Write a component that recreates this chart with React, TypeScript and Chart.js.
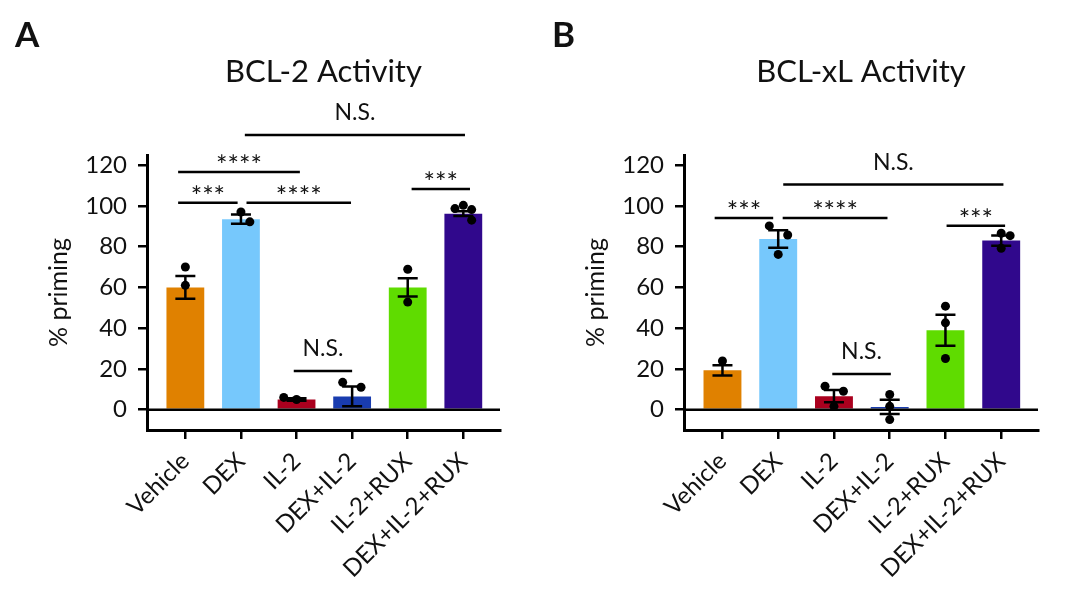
import { useEffect, useRef } from 'react';
import { Chart, registerables } from 'chart.js';

Chart.register(...registerables);

// ---------- data ----------
const categories = ['Vehicle', 'DEX', 'IL-2', 'DEX+IL-2', 'IL-2+RUX', 'DEX+IL-2+RUX'];
const barColors = ['#E08100', '#76C8FC', '#AA001E', '#193CAF', '#5FDC00', '#30088C'];
const yTickValues = [0, 20, 40, 60, 80, 100, 120];

const bcl2Means = [60, 93.5, 5, 6.5, 60, 96.2];
const bcl2Sem = [5.6, 2.3, 0.6, 4.8, 4.5, 1.2];
const bcl2Dots = [[70, 61], [97, 92.2], [6, 5], [13.4, 11], [68.9, 52.8], [98.7, 100.3, 98.2, 93]];
const bcl2Jitter = [[0, 0], [0, 0.16], [-0.23, 0], [-0.17, 0.16], [0, 0], [-0.15, 0, 0.15, 0.15]];
const bcl2Brackets = [
  { from: -0.13, to: 2.06, y: 116.7, label: '****' },
  { from: -0.13, to: 0.94, y: 101.6, label: '***' },
  { from: 1.1, to: 2.98, y: 101.6, label: '****' },
  { from: 1.07, to: 5.03, y: 134.8, label: 'N.S.' },
  { from: 4.07, to: 5.12, y: 108.3, label: '***' },
  { from: 1.95, to: 3.0, y: 19, label: 'N.S.' },
];

const bclxlMeans = [19.3, 83.8, 6.6, 1.3, 39, 83];
const bclxlSem = [2.5, 4.3, 3, 3.5, 7.6, 2.5];
const bclxlDots = [[23.9], [90.2, 85.7, 76.2], [11.5, 9, 1.6], [7.4, 1.6, -4.9], [50.8, 42.6, 25.1], [86.6, 85.4, 79.2]];
const bclxlJitter = [[0], [-0.16, 0.17, 0], [-0.16, 0.17, 0], [0, 0, 0], [0, 0, 0], [0, 0.16, 0]];
const bclxlBrackets = [
  { from: -0.14, to: 0.91, y: 94.1, label: '***' },
  { from: 1.08, to: 2.96, y: 94.1, label: '****' },
  { from: 1.09, to: 5.04, y: 110.5, label: 'N.S.' },
  { from: 4.02, to: 5.07, y: 90.3, label: '***' },
  { from: 1.97, to: 3.02, y: 17.5, label: 'N.S.' },
];

// ---------- chart ----------
const FONT = 'Lato, "Open Sans", "DejaVu Sans", sans-serif';
const INK = '#111';

type Bracket = { from: number; to: number; y: number; label: string };
type Panel = {
  letter: string;
  title: string;
  means: number[];
  sem: number[];
  dots: number[][];
  jitter: number[][];
  brackets: Bracket[];
  rightPad: number;
};

function buildConfig(p: Panel): any {
  const annot = {
    id: 'annot',
    afterDatasetDraw(chart: any, args: any) {
      if (args.index !== 0) return;
      const { ctx, chartArea, scales } = chart;
      const x = scales.x;
      const y = scales.y;
      ctx.save();
      ctx.strokeStyle = '#000';
      ctx.lineWidth = 2.5;
      const y0 = y.getPixelForValue(0);
      ctx.beginPath();
      ctx.moveTo(chartArea.left, y0);
      ctx.lineTo(chartArea.right, y0);
      ctx.stroke();
      p.means.forEach((m, i) => {
        const cx = x.getPixelForValue(i);
        const yt = y.getPixelForValue(m + p.sem[i]);
        const yb = y.getPixelForValue(m - p.sem[i]);
        ctx.beginPath();
        ctx.moveTo(cx, yt);
        ctx.lineTo(cx, yb);
        ctx.moveTo(cx - 10, yt);
        ctx.lineTo(cx + 10, yt);
        ctx.moveTo(cx - 10, yb);
        ctx.lineTo(cx + 10, yb);
        ctx.stroke();
      });
      ctx.restore();
    },
    afterDraw(chart: any) {
      const { ctx, chartArea, scales } = chart;
      const x = scales.x;
      const y = scales.y;
      ctx.save();
      ctx.fillStyle = INK;
      // panel letter
      ctx.font = `bold 35px ${FONT}`;
      ctx.textAlign = 'left';
      ctx.textBaseline = 'alphabetic';
      ctx.fillText(p.letter, 15, 47);
      // title
      ctx.font = `31px ${FONT}`;
      ctx.textAlign = 'center';
      ctx.fillText(p.title, (chartArea.left + chartArea.right) / 2, 82);
      // brackets
      ctx.strokeStyle = '#000';
      ctx.lineWidth = 2.5;
      p.brackets.forEach((b) => {
        const x1 = x.getPixelForValue(b.from);
        const x2 = x.getPixelForValue(b.to);
        const yy = y.getPixelForValue(b.y);
        ctx.beginPath();
        ctx.moveTo(x1, yy);
        ctx.lineTo(x2, yy);
        ctx.stroke();
        const isStar = b.label.includes('*');
        ctx.font = isStar ? `27px ${FONT}` : `23px ${FONT}`;
        ctx.fillText(b.label, (x1 + x2) / 2, isStar ? yy + 3 : yy - 15);
      });
      ctx.restore();
    },
  };

  const dotData = p.dots.flatMap((vals, i) => vals.map((v, j) => ({ x: i + p.jitter[i][j], y: v })));

  return {
    type: 'bar',
    data: {
      datasets: [
        {
          type: 'bar',
          data: p.means.map((m, i) => ({ x: i, y: m })),
          backgroundColor: barColors,
          borderWidth: 0,
          categoryPercentage: 0.8,
          barPercentage: 0.85,
          order: 2,
        },
        {
          type: 'scatter',
          data: dotData,
          pointRadius: 4.5,
          pointBackgroundColor: '#000',
          pointBorderWidth: 0,
          order: 1,
        },
      ],
    },
    options: {
      responsive: false,
      animation: false,
      layout: { padding: { top: 155, right: p.rightPad, bottom: 0, left: 0 } },
      plugins: { legend: { display: false }, tooltip: { enabled: false }, title: { display: false } },
      scales: {
        x: {
          type: 'linear',
          min: -0.69,
          max: 5.66,
          offset: false,
          afterFit: (s: any) => {
            s.height = 164;
          },
          afterBuildTicks: (s: any) => {
            s.ticks = categories.map((_, i) => ({ value: i }));
          },
          grid: {
            offset: false,
            drawOnChartArea: false,
            drawTicks: true,
            tickLength: 9,
            tickColor: '#000',
            lineWidth: 2.5,
          },
          border: { display: true, color: '#000', width: 3 },
          ticks: {
            autoSkip: false,
            maxRotation: 45,
            minRotation: 45,
            padding: 8,
            labelOffset: 0,
            color: INK,
            font: { family: FONT, size: 24 },
            callback: (v: any) => categories[Math.round(Number(v))] ?? '',
          },
        },
        y: {
          type: 'linear',
          min: -10,
          max: 125,
          afterFit: (s: any) => {
            s.width = 147;
          },
          afterBuildTicks: (s: any) => {
            s.ticks = yTickValues.map((v) => ({ value: v }));
          },
          grid: {
            drawOnChartArea: false,
            drawTicks: true,
            tickLength: 9,
            tickColor: '#000',
            lineWidth: 2.5,
          },
          border: { display: true, color: '#000', width: 3 },
          ticks: {
            padding: 11,
            color: INK,
            font: { family: FONT, size: 24 },
          },
          title: {
            display: true,
            text: '% priming',
            color: INK,
            font: { family: FONT, size: 25 },
            padding: { top: 44, bottom: 0 },
          },
        },
      },
    },
    plugins: [annot],
  };
}

const panelA: Panel = {
  letter: 'A',
  title: 'BCL-2 Activity',
  means: bcl2Means,
  sem: bcl2Sem,
  dots: bcl2Dots,
  jitter: bcl2Jitter,
  brackets: bcl2Brackets,
  rightPad: 37,
};

const panelB: Panel = {
  letter: 'B',
  title: 'BCL-xL Activity',
  means: bclxlMeans,
  sem: bclxlSem,
  dots: bclxlDots,
  jitter: bclxlJitter,
  brackets: bclxlBrackets,
  rightPad: 42,
};

export default function App() {
  const refA = useRef<HTMLCanvasElement>(null);
  const refB = useRef<HTMLCanvasElement>(null);

  useEffect(() => {
    const a = new Chart(refA.current as HTMLCanvasElement, buildConfig(panelA));
    const b = new Chart(refB.current as HTMLCanvasElement, buildConfig(panelB));
    return () => {
      a.destroy();
      b.destroy();
    };
  }, []);

  return (
    <div style={{ position: 'fixed', left: 0, top: 0, width: 1080, height: 594, background: '#fff' }}>
      <canvas
        ref={refA}
        width={537}
        height={594}
        style={{ position: 'absolute', left: 0, top: 0, width: 537, height: 594 }}
      />
      <canvas
        ref={refB}
        width={543}
        height={594}
        style={{ position: 'absolute', left: 537, top: 0, width: 543, height: 594 }}
      />
    </div>
  );
}
